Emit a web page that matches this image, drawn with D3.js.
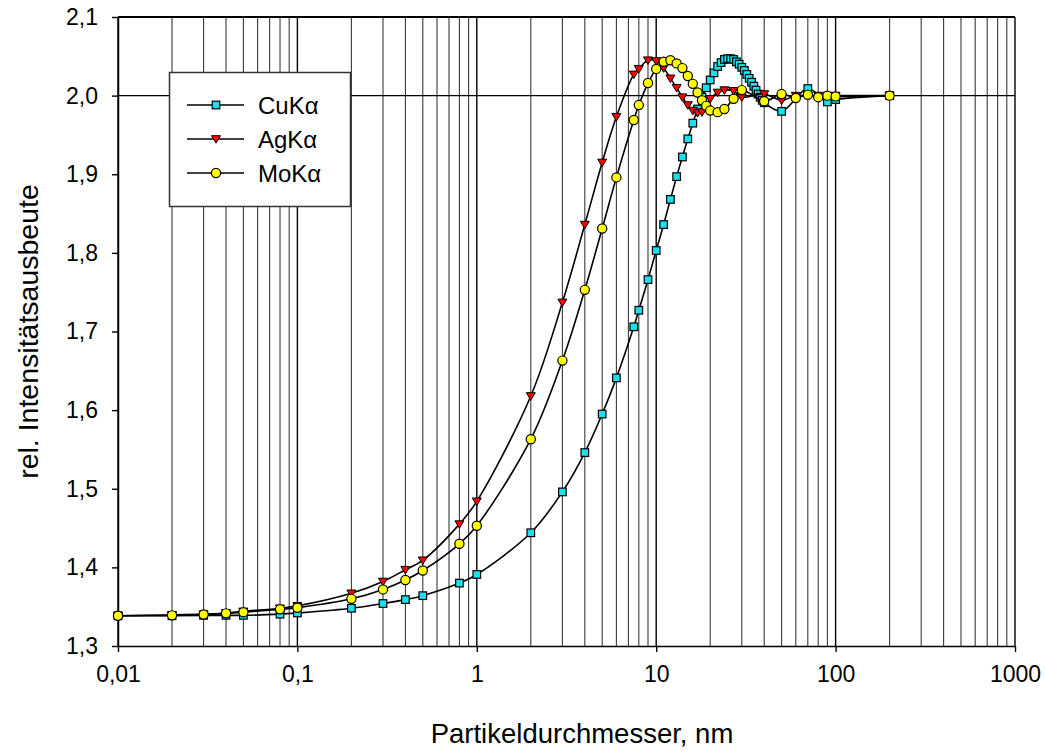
<!DOCTYPE html>
<html>
<head>
<meta charset="utf-8">
<script src="https://cdn.jsdelivr.net/npm/d3@7/dist/d3.min.js"></script>
<style>
  html, body { margin: 0; padding: 0; background: #fff; }
  svg { display: block; font-family: "Liberation Sans", Arial, sans-serif; }
</style>
</head>
<body>
<svg id="chart" width="1045" height="751"></svg>
<script>
// Particle diameter (nm) and relative intensity yield per radiation line
const xCu = [0.01,0.02,0.03,0.04,0.05,0.08,0.1,0.2,0.3,0.4,0.5,0.8,1,2,3,4,5,6,7.5,8,9,10,11,12,13,14,15,16,17,18,19,20,21,22,23,24,25,26,27,28,29,30,31,32,33,34,35,36,37,38,39,40,50,70,90,100,200];
const yCu = [1.3385,1.3385,1.339,1.339,1.339,1.3405,1.342,1.348,1.354,1.359,1.364,1.380,1.391,1.444,1.496,1.546,1.595,1.641,1.706,1.727,1.766,1.803,1.836,1.868,1.897,1.922,1.945,1.965,1.983,1.998,2.010,2.020,2.029,2.037,2.042,2.046,2.047,2.047,2.046,2.043,2.040,2.036,2.032,2.027,2.022,2.017,2.012,2.007,2.002,1.998,1.994,1.991,1.980,2.009,1.992,1.995,2.000];

const xAg = [0.01,0.02,0.03,0.04,0.05,0.08,0.1,0.2,0.3,0.4,0.5,0.8,1,2,3,4,5,6,7.5,8,9,10,11,12,13,14,15,16,17,18,19,20,22,24,27,30,40,50,60,70,80,90,100,200];
const yAg = [1.3385,1.3395,1.3405,1.342,1.344,1.348,1.351,1.367,1.382,1.397,1.409,1.455,1.484,1.618,1.737,1.836,1.915,1.973,2.027,2.034,2.045,2.044,2.035,2.022,2.010,1.998,1.988,1.981,1.978,1.979,1.988,1.996,2.004,2.007,2.006,1.998,2.002,1.994,2.000,2.000,2.000,2.000,2.000,2.000];

const xMo = [0.01,0.02,0.03,0.04,0.05,0.08,0.1,0.2,0.3,0.4,0.5,0.8,1,2,3,4,5,6,7.5,8,9,10,11,12,13,14,15,16,17,18,19,20,22,24,27,30,40,50,60,70,80,90,100,200];
const yMo = [1.3385,1.339,1.340,1.3415,1.343,1.3466,1.3487,1.360,1.372,1.384,1.396,1.430,1.453,1.563,1.663,1.753,1.831,1.896,1.969,1.988,2.016,2.034,2.043,2.045,2.041,2.035,2.025,2.015,2.004,1.994,1.987,1.981,1.979,1.983,1.996,2.007,1.993,2.002,1.997,2.001,1.998,2.000,1.999,2.000];

const seriesNames = ["CuK\u03B1", "AgK\u03B1", "MoK\u03B1"];

const xTickValues = [0.01, 0.1, 1, 10, 100, 1000];
const xTickLabels = ["0,01", "0,1", "1", "10", "100", "1000"];
const yTickValues = [1.3, 1.4, 1.5, 1.6, 1.7, 1.8, 1.9, 2.0, 2.1];
const yGridValues = [2.0];

const xTitle = "Partikeldurchmesser, nm";
const yTitle = "rel. Intensitätsausbeute";

// ---- layout ----
const svg = d3.select("#chart");
const plotLeft = 118, plotRight = 1015, plotTop = 17, plotBottom = 646;

const x = d3.scaleLog().domain([0.01, 1000]).range([plotLeft, plotRight]);
const y = d3.scaleLinear().domain([1.3, 2.1]).range([plotBottom, plotTop]);

const de = d3.formatLocale({decimal: ",", thousands: ".", grouping: [3], currency: ["", " €"]});
const fmtY = de.format(".1f");

// vertical grid: every 2..9 step of each decade, plus decade lines
const minorVals = [];
for (let e = -2; e < 3; e++) {
  for (let m = 2; m <= 9; m++) minorVals.push(m * Math.pow(10, e));
}
const grid = svg.append("g");
grid.selectAll("line.minor").data(minorVals).join("line")
  .attr("class", "minor")
  .attr("x1", d => x(d)).attr("x2", d => x(d))
  .attr("y1", plotTop).attr("y2", plotBottom)
  .attr("stroke", "#3a3a3a").attr("stroke-width", 1.1);
grid.selectAll("line.major").data(xTickValues).join("line")
  .attr("class", "major")
  .attr("x1", d => x(d)).attr("x2", d => x(d))
  .attr("y1", plotTop).attr("y2", plotBottom)
  .attr("stroke", "#000").attr("stroke-width", 1.4);
grid.selectAll("line.hgrid").data(yGridValues).join("line")
  .attr("class", "hgrid")
  .attr("x1", plotLeft).attr("x2", plotRight)
  .attr("y1", d => y(d)).attr("y2", d => y(d))
  .attr("stroke", "#000").attr("stroke-width", 1.1);

// plot frame top edge
svg.append("line").attr("x1", plotLeft).attr("x2", plotRight).attr("y1", plotTop).attr("y2", plotTop)
  .attr("stroke", "#000").attr("stroke-width", 2);

// axes
const xAxis = d3.axisBottom(x).tickValues(xTickValues)
  .tickFormat((d, i) => xTickLabels[i]).tickSize(6).tickSizeOuter(0).tickPadding(14);
const gx = svg.append("g").attr("transform", `translate(0,${plotBottom})`).call(xAxis);
gx.select(".domain").attr("stroke", "#000").attr("stroke-width", 1.5);
gx.selectAll(".tick line").attr("stroke", "#000").attr("stroke-width", 1.4);
gx.selectAll(".tick text").attr("font-size", 23).attr("fill", "#000")
  .attr("font-family", "Liberation Sans, Arial, sans-serif");

const yAxis = d3.axisLeft(y).tickValues(yTickValues)
  .tickFormat(fmtY).tickSize(6).tickSizeOuter(0).tickPadding(14);
const gy = svg.append("g").attr("transform", `translate(${plotLeft},0)`).call(yAxis);
gy.select(".domain").attr("stroke", "#000").attr("stroke-width", 1.5);
gy.selectAll(".tick line").attr("stroke", "#000").attr("stroke-width", 1.4);
gy.selectAll(".tick text").attr("font-size", 23).attr("fill", "#000")
  .attr("font-family", "Liberation Sans, Arial, sans-serif");

// series: line then markers, drawn in order Cu, Ag, Mo
const line = d3.line().x(d => x(d[0])).y(d => y(d[1])).curve(d3.curveCatmullRom.alpha(0.5));

const series = [
  {name: seriesNames[0], xs: xCu, ys: yCu, fill: "#19E0EC", shape: "square"},
  {name: seriesNames[1], xs: xAg, ys: yAg, fill: "#FF0000", shape: "triangle"},
  {name: seriesNames[2], xs: xMo, ys: yMo, fill: "#FFFF00", shape: "circle"}
];

function drawMarker(g, shape, fill) {
  if (shape === "square") {
    g.append("rect").attr("x", -3.8).attr("y", -3.8).attr("width", 7.6).attr("height", 7.6)
      .attr("fill", fill).attr("stroke", "#000").attr("stroke-width", 1.2);
  } else if (shape === "triangle") {
    g.append("path").attr("d", "M-4.5,-3.3L4.5,-3.3L0,4.2Z")
      .attr("fill", fill).attr("stroke", "#000").attr("stroke-width", 1);
  } else {
    g.append("circle").attr("r", 4.6)
      .attr("fill", fill).attr("stroke", "#000").attr("stroke-width", 1.2);
  }
}

series.forEach(s => {
  const pts = s.xs.map((v, i) => [v, s.ys[i]]);
  const g = svg.append("g");
  g.append("path").datum(pts).attr("d", line)
    .attr("fill", "none").attr("stroke", "#000").attr("stroke-width", 1.6);
  g.selectAll("g.m").data(pts).join("g").attr("class", "m")
    .attr("transform", d => `translate(${x(d[0])},${y(d[1])})`)
    .each(function() { drawMarker(d3.select(this), s.shape, s.fill); });
});

// legend
const lg = svg.append("g");
lg.append("rect").attr("x", 169.5).attr("y", 72.5).attr("width", 181).attr("height", 134)
  .attr("fill", "#fff").attr("stroke", "#333").attr("stroke-width", 1.5);
series.forEach((s, i) => {
  const cy = 105 + i * 34;
  lg.append("line").attr("x1", 187).attr("x2", 244).attr("y1", cy).attr("y2", cy)
    .attr("stroke", "#000").attr("stroke-width", 1.6);
  const mg = lg.append("g").attr("transform", `translate(216,${cy})`);
  drawMarker(mg, s.shape, s.fill);
  lg.append("text").attr("x", 258).attr("y", cy + 8.5)
    .attr("font-size", 24).attr("fill", "#000").text(s.name);
});

// axis titles
svg.append("text").attr("x", 582).attr("y", 743)
  .attr("text-anchor", "middle").attr("font-size", 27.5).attr("fill", "#000").text(xTitle);
svg.append("text")
  .attr("transform", `translate(38,${(plotTop + plotBottom) / 2}) rotate(-90)`)
  .attr("text-anchor", "middle").attr("font-size", 28.5).attr("fill", "#000").text(yTitle);
</script>
</body>
</html>
